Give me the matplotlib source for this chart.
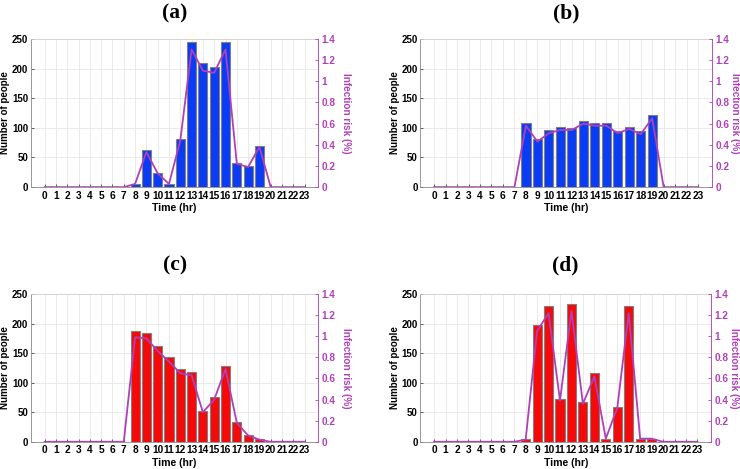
import numpy as np
import matplotlib
matplotlib.use('Agg')
import matplotlib.pyplot as plt

plt.rcParams['font.family'] = ['Liberation Sans', 'DejaVu Sans']
plt.rcParams['font.weight'] = 'bold'

hours = list(range(24))

# number of people per hour
people_a = [0, 0, 0, 0, 0, 0, 0, 0, 5, 62, 23, 5, 81, 245, 209, 203, 245, 41, 36, 70, 0, 0, 0, 0]
people_b = [0, 0, 0, 0, 0, 0, 0, 0, 108, 81, 96, 101, 100, 111, 109, 108, 95, 102, 94, 121, 0, 0, 0, 0]
people_c = [0, 0, 0, 0, 0, 0, 0, 0, 187, 184, 162, 144, 123, 118, 52, 76, 129, 33, 12, 5, 0, 0, 0, 0]
people_d = [0, 0, 0, 0, 0, 0, 0, 0, 5, 198, 229, 73, 233, 67, 117, 5, 59, 229, 5, 5, 0, 0, 0, 0]

# infection risk (%)
risk_a = [0, 0, 0, 0, 0, 0, 0, 0, 0.03, 0.33, 0.13, 0.03, 0.44, 1.30, 1.10, 1.08, 1.30, 0.22, 0.19, 0.38, 0, 0, 0, 0]
risk_b = [0, 0, 0, 0, 0, 0, 0, 0, 0.58, 0.43, 0.51, 0.54, 0.54, 0.60, 0.58, 0.58, 0.51, 0.55, 0.50, 0.65, 0, 0, 0, 0]
risk_c = [0, 0, 0, 0, 0, 0, 0, 0, 0.99, 0.98, 0.86, 0.76, 0.65, 0.63, 0.28, 0.40, 0.69, 0.18, 0.06, 0.02, 0, 0, 0, 0]
risk_d = [0, 0, 0, 0, 0, 0, 0, 0, 0.02, 1.05, 1.22, 0.39, 1.24, 0.36, 0.62, 0.03, 0.32, 1.22, 0.03, 0.03, 0, 0, 0, 0]

panels = [
    ("(a)", people_a, risk_a, '#0A3CF5', [0.042, 0.601, 0.388, 0.316], 0.972),
    ("(b)", people_b, risk_b, '#0A3CF5', [0.568, 0.601, 0.394, 0.316], 0.972),
    ("(c)", people_c, risk_c, '#F50A0A', [0.042, 0.058, 0.388, 0.315], 0.435),
    ("(d)", people_d, risk_d, '#F50A0A', [0.568, 0.058, 0.393, 0.315], 0.435),
]

purple = '#B040B8'
fig = plt.figure(figsize=(7.4, 4.69), dpi=100)
W = 740

for title, people, risk, color, rect, ty in panels:
    ax = fig.add_axes(rect)
    ax.bar(hours, people, width=0.8, color=color, edgecolor='#808080', linewidth=0.8, zorder=3)
    ax.set_xlim(-1.2, 24.2)
    ax.set_ylim(0, 250)
    ax.set_xticks(hours)
    ax.set_yticks([0, 50, 100, 150, 200, 250])
    ax.tick_params(labelsize=7.0, length=2, width=0.6, color='#444444', pad=2, direction='in')
    ax.tick_params(axis='x', labelsize=7.3, pad=2.5)
    ax.grid(True, color='#E6E6E6', linewidth=0.6, zorder=0)
    for s in ax.spines.values():
        s.set_color('#D0D0D0')
        s.set_linewidth(0.6)
    ax.spines['bottom'].set_color('#888888')
    ax.spines['left'].set_color('#888888')
    ax.set_ylabel('Number of people', fontsize=7.0, fontweight='bold', va='center')
    left_px = rect[0] * W
    lab_px = 5.5 if rect[0] < 0.5 else 395
    ax.yaxis.set_label_coords((lab_px - left_px) / (rect[2] * W), 0.5)
    ax.set_xlabel('Time (hr)', fontsize=7.6, fontweight='bold', labelpad=2)
    fig.text(rect[0] + rect[2] / 2, ty, title, fontsize=15.5, fontweight='bold',
             family='Liberation Serif', ha='center', va='center')

    ax2 = ax.twinx()
    ax2.plot(hours, risk, color=purple, linewidth=1.3, zorder=4)
    ax2.set_ylim(0, 1.4)
    ax2.set_yticks([0, 0.2, 0.4, 0.6, 0.8, 1.0, 1.2, 1.4])
    ax2.set_yticklabels(['0', '0.2', '0.4', '0.6', '0.8', '1', '1.2', '1.4'])
    ax2.tick_params(labelsize=7.2, length=2, width=0.6, colors=purple, pad=2.5, direction='in')
    ax2.spines['right'].set_color(purple)
    ax2.spines['right'].set_linewidth(0.6)
    for k in ['top', 'left', 'bottom']:
        ax2.spines[k].set_visible(False)
    ax2.set_ylabel('Infection risk (%)', fontsize=7.2, fontweight='bold', color=purple,
                   rotation=270, va='center')
    ax2.yaxis.set_label_coords(1.097 if rect[0] < 0.5 else 1.078, 0.5)

fig.savefig('out.png', dpi=100)
